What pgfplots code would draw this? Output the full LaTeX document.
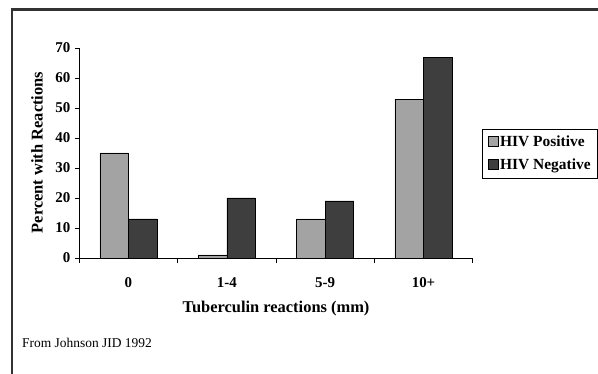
\documentclass[border=0pt]{standalone}
\usepackage{pgfplots}
\pgfplotsset{compat=1.18}
\usepackage{fontspec}
\setmainfont{Liberation Serif}
\definecolor{hivpos}{RGB}{163,163,163}
\definecolor{hivneg}{RGB}{62,62,62}
\definecolor{framec}{RGB}{50,50,50}
\begin{document}
\begin{tikzpicture}
\clip (0bp,0bp) rectangle (598bp,374bp);
\fill[white] (0bp,0bp) rectangle (598bp,374bp);
\draw[line width=2.4bp, framec] (12bp,-2bp) -- (12bp,364.5bp) -- (602bp,364.5bp);
\begin{axis}[
  at={(79.3bp,116bp)}, anchor=south west,
  scale only axis, width=393.4bp, height=210bp,
  xmin=-0.5, xmax=3.5, ymin=0, ymax=70,
  ybar=0pt, bar width=28.6bp,
  axis x line=bottom, axis y line=left,
  x axis line style={-}, y axis line style={-},
  axis line style={line width=0.8bp, black},
  tick align=outside,
  major tick length=4.5bp, minor tick length=5bp,
  ytick={0,10,...,70},
  xtick={0,1,2,3},
  xticklabels={0,1-4,5-9,10+},
  minor xtick={-0.5,0.5,1.5,2.5,3.5},
  major x tick style={draw=none},
  tick style={line width=0.8bp, black},
  /pgf/number format/assume math mode=true,
  yticklabel style={font=\bfseries\fontsize{15}{17}\selectfont, xshift=-1bp},
  xticklabel style={font=\bfseries\fontsize{15}{17}\selectfont, yshift=-12bp},
  legend style={at={(1.0247,0.616)}, anchor=north west, draw=black, line width=0.6bp,
    font=\bfseries\fontsize{15.5}{17}\selectfont, row sep=7bp, inner xsep=5bp, inner ysep=5bp,
    legend cell align=left, /tikz/every even column/.append style={column sep=0pt}},
]
\addplot[fill=hivpos, draw=black, line width=0.6bp, legend image code/.code={\draw[fill=hivpos,draw=black,line width=0.5bp] (0bp,-4.5bp) rectangle (10bp,5.5bp);}] coordinates {(0,35) (1,1) (2,13) (3,53)};
\addplot[fill=hivneg, draw=black, line width=0.6bp, legend image code/.code={\draw[fill=hivneg,draw=black,line width=0.5bp] (0bp,-4.5bp) rectangle (10bp,5.5bp);}] coordinates {(0,13) (1,20) (2,19) (3,67)};
\legend{HIV Positive, HIV Negative}
\end{axis}
\node[rotate=90, font=\bfseries\fontsize{16.5}{18}\selectfont] at (37bp,221.5bp) {Percent with Reactions};
\node[font=\bfseries\fontsize{16.5}{18}\selectfont] at (276bp,65bp) {Tuberculin reactions (mm)};
\node[anchor=west, inner sep=0pt, font=\fontsize{13.5}{15}\selectfont] at (22bp,31bp) {From Johnson JID 1992};
\end{tikzpicture}
\end{document}
